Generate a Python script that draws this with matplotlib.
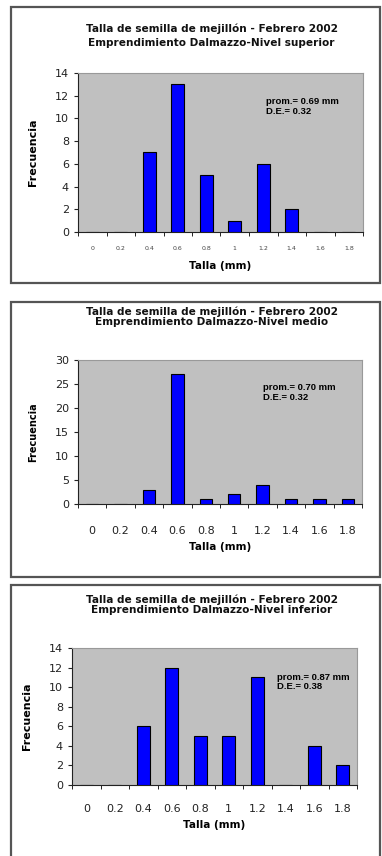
import matplotlib.pyplot as plt
from matplotlib.patches import Rectangle

plt.rcParams['font.family'] = ['DejaVu Sans']

W, H = 382, 856

tallas = ['0', '0.2', '0.4', '0.6', '0.8', '1', '1.2', '1.4', '1.6', '1.8']
frec_superior = [0, 0, 7, 13, 5, 1, 6, 2, 0, 0]
frec_medio = [0, 0, 3, 27, 1, 2, 4, 1, 1, 1]
frec_inferior = [0, 0, 6, 12, 5, 5, 11, 0, 4, 2]

titulo = 'Talla de semilla de mejillón - Febrero 2002'
niveles = ['Emprendimiento Dalmazzo-Nivel superior',
           'Emprendimiento Dalmazzo-Nivel medio',
           'Emprendimiento Dalmazzo-Nivel inferior']
stats = ['prom.= 0.69 mm\nD.E.= 0.32',
         'prom.= 0.70 mm\nD.E.= 0.32',
         'prom.= 0.87 mm\nD.E.= 0.38']
ymax = [14, 30, 14]
ystep = [2, 5, 2]

fig = plt.figure(figsize=(W / 100, H / 100), dpi=100)
fig.patch.set_facecolor('white')


def px_box(x0, y0, x1, y1):
    # pixel coords (top-left origin) -> figure fraction [l, b, w, h]
    return [x0 / W, 1 - y1 / H, (x1 - x0) / W, (y1 - y0) / H]


def frame(x0, y0, x1, y1):
    l, b, w, h = px_box(x0, y0, x1, y1)
    fig.patches.append(Rectangle((l, b), w, h, transform=fig.transFigure,
                                 fill=False, edgecolor='#555555', lw=1.6))


def panel(frec, nivel, stat, box, axbox, ylab_x, stat_xy, i, title_y, title_ls,
          ylab_size, tick_pad, xlab_pad, small_ticks=False):
    frame(*box)
    ax = fig.add_axes(px_box(*axbox))
    ax.set_facecolor('#c0c0c0')
    x = list(range(len(tallas)))
    ax.bar(x, frec, width=0.44, color='#0000ff', edgecolor='black', lw=0.8, zorder=3)
    ax.set_xlim(-0.5, len(tallas) - 0.5)
    ax.set_ylim(0, ymax[i])
    ax.set_yticks(range(0, ymax[i] + 1, ystep[i]))
    ax.set_xticks(x)
    if small_ticks:
        ax.set_xticklabels(tallas, fontsize=4.5, color='#444444')
    else:
        ax.set_xticklabels(tallas, fontsize=8, color='#222222')
    ax.set_xticks([v - 0.5 for v in range(len(tallas) + 1)], minor=True)
    ax.tick_params(axis='x', which='major', length=0, pad=tick_pad)
    ax.tick_params(axis='x', which='minor', length=3, direction='out')
    ax.tick_params(axis='y', labelsize=8, length=3, colors='#222222')
    for s in ['top', 'right']:
        ax.spines[s].set_color('#999999')
    for s in ['left', 'bottom']:
        ax.spines[s].set_color('#222222')
    ax.set_xlabel('Talla (mm)', fontsize=7.5, fontweight='bold', labelpad=xlab_pad)
    ax.text(stat_xy[0], stat_xy[1], stat, transform=ax.transAxes, fontsize=6.8,
            fontweight='bold', ha='left', va='top', linespacing=1.1,
            family='Liberation Sans')
    x0, y0, x1, y1 = box
    cx = (x0 + x1) / 2 + 16
    fig.text(cx / W, 1 - title_y / H, titulo + '\n' + nivel, fontsize=7.6,
             fontweight='bold', ha='center', va='center', linespacing=title_ls,
             color='#111111')
    ay0, ay1 = axbox[1], axbox[3]
    fig.text(ylab_x / W, 1 - ((ay0 + ay1) / 2) / H, 'Frecuencia', rotation=90,
             fontsize=ylab_size, fontweight='bold', ha='center', va='center')
    return ax


panel(frec_superior, niveles[0], stats[0], (11, 7, 380, 283), (78, 73, 363, 232),
      33, (0.66, 0.85), 0, 36, 1.55, 8, 10, 7, small_ticks=True)
panel(frec_medio, niveles[1], stats[1], (11, 302, 380, 577), (78, 360, 362, 504),
      33, (0.65, 0.84), 1, 317, 1.05, 7, 16, 4)
panel(frec_inferior, niveles[2], stats[2], (11, 585, 380, 880), (72, 648, 357, 785),
      27, (0.72, 0.82), 2, 605, 1.0, 8, 14, 4)

fig.savefig('out.png', dpi=100)
